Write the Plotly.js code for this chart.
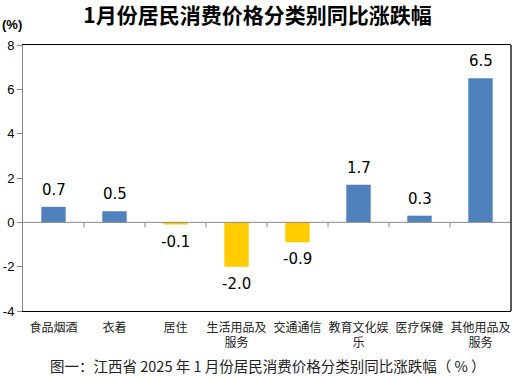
<!DOCTYPE html>
<html><head><meta charset="utf-8">
<script src="https://cdn.plot.ly/plotly-3.0.1.min.js"></script>
<style>body{margin:0;padding:0;background:#fff}#chart{width:518px;height:378px}</style>
</head><body><div id="chart"></div>
<script>
const categories = ["食品烟酒","衣着","居住","生活用品及<br>服务","交通通信","教育文化娱<br>乐","医疗保健","其他用品及<br>服务"];
const values = [0.7, 0.5, -0.1, -2.0, -0.9, 1.7, 0.3, 6.5];
const yTicks = [-4, -2, 0, 2, 4, 6, 8];
const posColor = "#4f81bd", negColor = "#ffcc00";

const trace = {
  type: "bar",
  x: categories,
  y: values,
  width: 0.4,
  marker: {color: values.map(v => v >= 0 ? posColor : negColor)},
  cliponaxis: false,
  hoverinfo: "none"
};

const shapes = [
  {type: "line", xref: "x", yref: "y", x0: -0.5, x1: categories.length - 0.5, y0: 0, y1: 0, line: {color: "#888", width: 1}},
  {type: "line", xref: "paper", yref: "paper", x0: 1, x1: 1, y0: 0, y1: 1, line: {color: "#000", width: 1.3}}
];
for (let i = 1; i < categories.length; i++) {
  shapes.push({type: "line", xref: "x", yref: "y", ysizemode: "pixel", yanchor: 0,
    x0: i - 0.5, x1: i - 0.5, y0: 0, y1: -5, line: {color: "#888", width: 1}});
}

const valueLabels = values.map((v, i) => ({
  text: v.toFixed(1), xref: "x", yref: "y", x: categories[i], y: v,
  xanchor: "center", yanchor: "middle", yshift: v >= 0 ? 17 : -17,
  showarrow: false, font: {family: "DejaVu Sans", size: 15, color: "#000"}
}));

const layout = {
  width: 518, height: 378,
  margin: {l: 23, r: 7, t: 45, b: 67},
  paper_bgcolor: "#fff", plot_bgcolor: "#fff",
  showlegend: false,
  title: {text: "1月份居民消费价格分类别同比涨跌幅", x: 0.497, xanchor: "center", y: 0.958, yanchor: "middle",
    font: {family: "Noto Sans CJK SC", size: 21, color: "#000", weight: "bold"}},
  xaxis: {
    type: "category", range: [-0.5, categories.length - 0.5],
    showline: true, linecolor: "#000", linewidth: 1.3, mirror: true,
    ticks: "", showgrid: false, zeroline: false,
    ticklabelstandoff: 5,
    tickfont: {family: "Noto Sans CJK SC", size: 12, color: "#222"},
    fixedrange: true
  },
  yaxis: {
    range: [-4, 8], tickvals: yTicks, ticktext: yTicks.map(String),
    showline: true, linecolor: "#888", linewidth: 1,
    ticks: "outside", ticklen: 5, tickcolor: "#888",
    showgrid: false, zeroline: false,
    tickfont: {family: "Liberation Sans", size: 13, color: "#000"},
    fixedrange: true
  },
  shapes: shapes,
  annotations: valueLabels.concat([
    {text: "<b>(%)</b>", xref: "paper", yref: "paper", x: -0.047, y: 1.077, xanchor: "left", yanchor: "middle",
      showarrow: false, font: {family: "Liberation Sans", size: 13, color: "#000"}},
    {text: "图一：江西省 2025 年 1 月份居民消费价格分类别同比涨跌幅（ % ）", xref: "paper", yref: "paper",
      x: 0.502, y: -0.205, xanchor: "center", yanchor: "middle", showarrow: false,
      font: {family: "Noto Sans CJK SC", size: 14.5, color: "#222"}}
  ])
};

Plotly.newPlot("chart", [trace], layout, {displayModeBar: false, staticPlot: true});
</script></body></html>
